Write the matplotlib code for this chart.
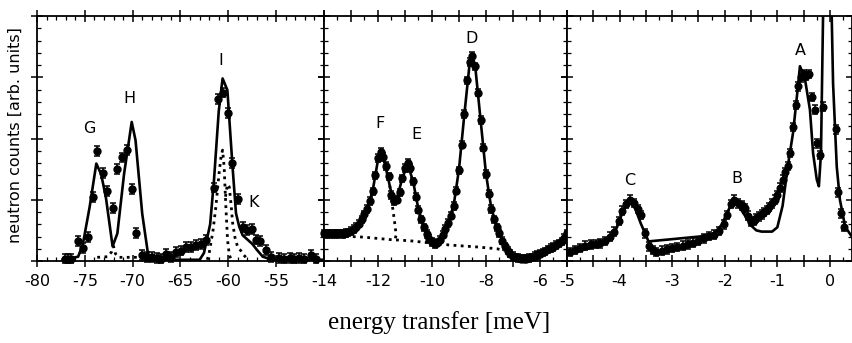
import matplotlib
matplotlib.use("Agg")
import matplotlib.pyplot as plt
from matplotlib.ticker import MultipleLocator, FuncFormatter

plt.rcParams['axes.unicode_minus'] = False
plt.rcParams['font.family'] = ['DejaVu Sans']

# ---------------- Panel 1 (-80 .. -50 meV) ----------------
x1 = [-77.1, -76.8, -76.4, -75.7, -75.2, -74.65, -74.1, -73.7, -73.1, -72.65, -72.1,
      -71.6, -71.1, -70.6, -70.1, -69.6, -69.0, -68.5, -68.0, -67.5, -67.0, -66.5,
      -66.0, -65.5, -64.95, -64.4, -63.9, -63.35, -62.85, -62.3, -61.55, -61.1, -60.6,
      -60.0, -59.6, -59.0, -58.5, -58.0, -57.55, -57.1, -56.65, -56.05, -55.5, -54.7,
      -54.15, -53.6, -53.1, -52.6, -52.05, -51.35, -50.8]
y1 = [0.04, 0.04, 0.04, 0.33, 0.21, 0.39, 1.04, 1.80, 1.44, 1.14, 0.86,
      1.50, 1.69, 1.81, 1.17, 0.46, 0.10, 0.07, 0.07, 0.05, 0.04, 0.12,
      0.07, 0.15, 0.17, 0.23, 0.23, 0.26, 0.28, 0.34, 1.20, 2.65, 2.75,
      2.41, 1.60, 1.01, 0.56, 0.51, 0.52, 0.35, 0.33, 0.18, 0.07, 0.05,
      0.04, 0.05, 0.04, 0.05, 0.04, 0.10, 0.04]
err1 = 0.08
xf1 = [-77.3, -75.7, -75.2, -74.5, -73.8, -73.3, -72.8, -72.1, -71.6, -70.9, -70.1,
       -69.7, -69.0, -68.4, -67.9, -65.8, -63.0, -62.55, -61.9, -61.5, -61.0, -60.6,
       -60.1, -59.56, -59.2, -58.86, -58.5, -57.5, -57.0, -56.4, -55.4, -50.0]
yf1 = [0.02, 0.07, 0.28, 0.88, 1.59, 1.42, 1.04, 0.24, 0.45, 1.42, 2.27,
       1.97, 0.77, 0.12, 0.04, 0.02, 0.02, 0.13, 0.60, 1.32, 2.45, 2.98,
       2.79, 1.54, 0.78, 0.56, 0.42, 0.28, 0.18, 0.07, 0.02, 0.02]
xd1a = [-73.7, -72.6, -72.2, -72.0, -71.8, -71.5, -70.5, -69.2]
yd1a = [0.06, 0.07, 0.15, 0.24, 0.12, 0.06, 0.06, 0.06]
xd1i = [-62.2, -62.0, -61.6, -61.3, -60.97, -60.75, -60.6, -60.44, -60.26, -60.08, -59.9, -59.7]
yd1i = [0.02, 0.13, 0.50, 0.89, 1.43, 1.72, 1.81, 1.54, 0.89, 0.34, 0.10, 0.02]
xd1k = [-60.3, -60.1, -59.9, -59.7, -59.55, -59.3, -59.03, -58.7, -58.4, -58.0]
yd1k = [1.05, 1.25, 1.21, 0.90, 0.62, 0.38, 0.23, 0.17, 0.10, 0.03]

# ---------------- Panel 2 (-14 .. -5 meV) ----------------
x2 = [-14.0, -13.9, -13.8, -13.7, -13.6, -13.5, -13.4, -13.3, -13.2, -13.1, -13.0,
      -12.9, -12.8, -12.7, -12.6, -12.5, -12.4, -12.3, -12.2, -12.1, -12.0, -11.9,
      -11.8, -11.7, -11.6, -11.5, -11.4, -11.3, -11.2, -11.1, -11.0, -10.9, -10.8,
      -10.7, -10.6, -10.5, -10.4, -10.3, -10.2, -10.1, -10.0, -9.9, -9.8, -9.7,
      -9.6, -9.5, -9.4, -9.3, -9.2, -9.1, -9.0, -8.9, -8.8, -8.7, -8.6, -8.5,
      -8.4, -8.3, -8.2, -8.1, -8.0, -7.9, -7.8, -7.7, -7.6, -7.5, -7.4, -7.3,
      -7.2, -7.1, -7.0, -6.9, -6.8, -6.7, -6.6, -6.5, -6.4, -6.3, -6.2, -6.1,
      -6.0, -5.9, -5.8, -5.7, -5.6, -5.5, -5.4, -5.3, -5.2, -5.1, -5.0]
y2 = [0.45, 0.44, 0.45, 0.44, 0.45, 0.44, 0.45, 0.44, 0.46, 0.47, 0.49,
      0.52, 0.56, 0.61, 0.68, 0.76, 0.85, 0.98, 1.14, 1.40, 1.68, 1.78,
      1.70, 1.55, 1.38, 1.08, 0.98, 1.00, 1.12, 1.35, 1.52, 1.60, 1.52,
      1.30, 1.05, 0.84, 0.68, 0.55, 0.44, 0.36, 0.31, 0.28, 0.30, 0.35,
      0.43, 0.52, 0.62, 0.74, 0.90, 1.15, 1.48, 1.90, 2.40, 2.95, 3.25, 3.35,
      3.18, 2.75, 2.30, 1.85, 1.42, 1.10, 0.85, 0.68, 0.55, 0.45, 0.33, 0.24,
      0.17, 0.12, 0.08, 0.06, 0.05, 0.04, 0.04, 0.04, 0.05, 0.06, 0.08, 0.10,
      0.12, 0.14, 0.16, 0.19, 0.21, 0.23, 0.26, 0.29, 0.32, 0.38, 0.45]
err2 = 0.06
xf2 = [-14.0, -13.0, -12.7, -12.4, -12.2, -12.0, -11.9, -11.75, -11.6, -11.45, -11.3,
       -11.1, -10.9, -10.7, -10.5, -10.2, -10.0, -9.8, -9.5, -9.2, -9.0, -8.8,
       -8.6, -8.5, -8.4, -8.2, -8.0, -7.8, -7.5, -7.2, -7.0, -6.6, -6.2, -5.8, -5.4, -5.0]
yf2 = [0.44, 0.49, 0.60, 0.85, 1.14, 1.65, 1.76, 1.60, 1.30, 1.00, 1.02,
       1.35, 1.58, 1.30, 0.84, 0.44, 0.31, 0.30, 0.52, 0.90, 1.50, 2.40,
       3.25, 3.35, 3.18, 2.30, 1.42, 0.85, 0.45, 0.17, 0.08, 0.04, 0.08, 0.16, 0.26, 0.45]
xd2b = [-14.0, -12.54, -11.56, -10.81, -9.33, -8.35, -7.6, -7.3]
yd2b = [0.42, 0.39, 0.35, 0.33, 0.26, 0.23, 0.20, 0.17]
xd2f = [-11.6, -11.5, -11.42, -11.36, -11.33, -11.36, -11.45]
yd2f = [1.35, 1.00, 0.75, 0.55, 0.42, 0.37, 0.35]

# ---------------- Panel 3 (-5 .. 0.4 meV) ----------------
x3 = [-4.94, -4.85, -4.75, -4.65, -4.55, -4.45, -4.37, -4.27, -4.18, -4.1, -4.02,
      -3.95, -3.88, -3.8, -3.73, -3.65, -3.6, -3.52, -3.45, -3.37, -3.3, -3.2,
      -3.1, -3.0, -2.9, -2.8, -2.7, -2.6, -2.5, -2.4, -2.3, -2.2, -2.1, -2.02,
      -1.95, -1.88, -1.82, -1.75, -1.68, -1.62, -1.55, -1.5, -1.45, -1.4, -1.35,
      -1.3, -1.25, -1.2, -1.15, -1.1, -1.05, -1.0, -0.95, -0.9, -0.85, -0.8,
      -0.75, -0.7, -0.65, -0.6, -0.55, -0.5, -0.45, -0.4, -0.35, -0.29, -0.25,
      -0.19, -0.13, 0.11, 0.16, 0.22, 0.27]
y3 = [0.15, 0.18, 0.21, 0.25, 0.27, 0.28, 0.29, 0.33, 0.40, 0.48, 0.65,
      0.82, 0.93, 1.00, 0.95, 0.85, 0.75, 0.45, 0.24, 0.18, 0.15, 0.17,
      0.19, 0.21, 0.23, 0.25, 0.27, 0.30, 0.33, 0.37, 0.41, 0.43, 0.49, 0.60,
      0.75, 0.93, 1.00, 0.94, 0.91, 0.86, 0.74, 0.64, 0.65, 0.70, 0.73,
      0.76, 0.80, 0.83, 0.88, 0.94, 1.00, 1.08, 1.20, 1.33, 1.45, 1.55,
      1.76, 2.19, 2.55, 2.85, 3.00, 3.05, 3.02, 3.05, 2.68, 2.47, 1.92,
      1.73, 2.52, 2.15, 1.12, 0.78, 0.56]
err3 = 0.07
xf3 = [-5.0, -4.6, -4.3, -4.15, -4.05, -3.95, -3.85, -3.8, -3.7, -3.6, -3.5, -3.45,
       -2.47, -2.2, -2.05, -1.95, -1.85, -1.75, -1.6, -1.5, -1.4, -1.3, -1.1, -1.0,
       -0.9, -0.8, -0.7, -0.62, -0.57, -0.48, -0.38, -0.32, -0.25, -0.21, -0.17,
       -0.06, 0.06, 0.13, 0.19, 0.29, 0.4]
yf3 = [0.12, 0.20, 0.28, 0.38, 0.55, 0.78, 0.95, 0.97, 0.85, 0.62, 0.42, 0.32,
       0.40, 0.45, 0.60, 0.80, 0.96, 0.92, 0.72, 0.58, 0.50, 0.48, 0.48, 0.55,
       0.90, 1.55, 2.10, 2.75, 3.18, 3.00, 2.47, 1.76, 1.33, 1.22, 1.76,
       8.0, 2.90, 1.54, 1.00, 0.56, 0.42]

# peak labels
lab1 = [("G", -74.5, 2.17), ("H", -70.3, 2.66), ("I", -60.8, 3.28), ("K", -57.4, 0.96)]
lab2 = [("F", -11.93, 2.25), ("E", -10.57, 2.06), ("D", -8.53, 3.64)]
lab3 = [("C", -3.8, 1.32), ("B", -1.77, 1.35), ("A", -0.57, 3.44)]

W, H = 853, 343
fig = plt.figure(figsize=(W / 100, H / 100), dpi=100)
bottom = (H - 261) / H
height = 245 / H
ax1 = fig.add_axes([37 / W, bottom, (324 - 37) / W, height])
ax2 = fig.add_axes([324 / W, bottom, (567 - 324) / W, height])
ax3 = fig.add_axes([567 / W, bottom, (852 - 567) / W, height])


def style(ax, xlim, major, minor, labeled):
    ax.set_xlim(*xlim)
    ax.set_ylim(0, 4)
    ax.xaxis.set_major_locator(MultipleLocator(major))
    ax.xaxis.set_minor_locator(MultipleLocator(minor))
    ax.yaxis.set_major_locator(MultipleLocator(1))
    ax.yaxis.set_minor_locator(MultipleLocator(0.2))

    def fmt(v, pos):
        for L in labeled:
            if abs(v - L) < 1e-6:
                return "%d" % L
        return ""
    ax.xaxis.set_major_formatter(FuncFormatter(fmt))
    ax.tick_params(which='major', direction='inout', length=8, width=1.1,
                   top=True, right=True, labelleft=False, labelsize=11.5, pad=5)
    ax.tick_params(which='minor', direction='in', length=3, width=0.9,
                   top=True, right=True)
    for s in ax.spines.values():
        s.set_linewidth(1.3)


def pts(ax, x, y, err, ms):
    cont = ax.errorbar(x, y, yerr=err, fmt='o', color='k', ms=ms, capsize=2.2,
                       elinewidth=1.1, capthick=1.1, zorder=3)
    for art in cont.get_children():
        art.set_clip_on(False)


style(ax1, (-80, -50), 5, 1, [-80, -75, -70, -65, -60, -55])
style(ax2, (-14, -5), 1, 0.5, [-14, -12, -10, -8, -6])
style(ax3, (-5, 0.42), 0.5, 0.25, [-5, -4, -3, -2, -1, 0])

# panel 1
ax1.plot(xf1, yf1, color='k', lw=1.9, zorder=2)
for xd, yd in [(xd1a, yd1a), (xd1i, yd1i), (xd1k, yd1k)]:
    ax1.plot(xd, yd, color='k', lw=2, ls=(0, (1, 1.6)), zorder=2)
pts(ax1, x1, y1, err1, 5)

# panel 2
for xd, yd in [(xd2b, yd2b), (xd2f, yd2f)]:
    ax2.plot(xd, yd, color='k', lw=2, ls=(0, (1, 1.6)), zorder=2)
ax2.plot(xf2, yf2, color='k', lw=1.9, zorder=2)
pts(ax2, x2, y2, err2, 5)

# panel 3
ax3.plot(xf3, yf3, color='k', lw=1.9, zorder=2)
pts(ax3, x3, y3, err3, 4.8)

for ax, labs in [(ax1, lab1), (ax2, lab2), (ax3, lab3)]:
    for t, xx, yy in labs:
        ax.text(xx, yy, t, ha='center', va='center', fontsize=11.5)

fig.text(15 / W, 0.606, "neutron counts [arb. units]", rotation=90,
         ha='center', va='center', fontsize=11.5)
fig.text(439 / W, 0.06, "energy transfer [meV]", ha='center', va='center',
         fontsize=18, family=['Liberation Serif', 'DejaVu Serif'])

fig.savefig("out.png", dpi=100)
